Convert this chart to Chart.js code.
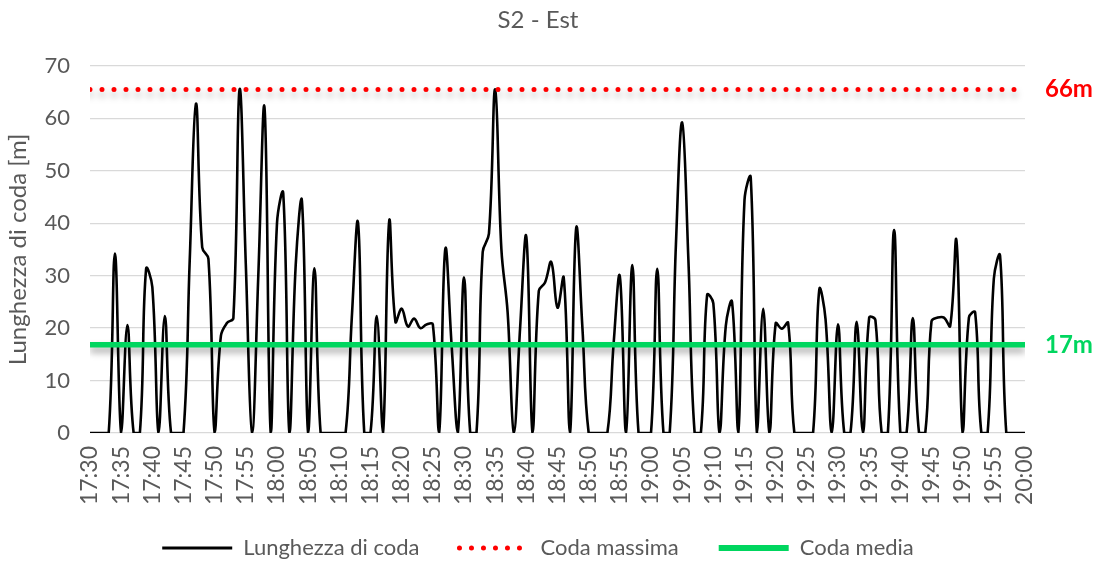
<!DOCTYPE html>
<html>
<head>
<meta charset="utf-8">
<script src="https://cdn.jsdelivr.net/npm/chart.js@4.4.0/dist/chart.umd.min.js"></script>
<style>
  html, body { margin: 0; padding: 0; background: #fff; }
  #wrap { width: 1105px; height: 562px; }
</style>
</head>
<body>
<div id="wrap"><canvas id="chart"></canvas></div>
<script>
// tick labels every 5 minutes, one queue reading per minute (17:30 -> 20:00)
const tickLabels = ['17:30', '17:35', '17:40', '17:45', '17:50', '17:55', '18:00', '18:05', '18:10', '18:15',
    '18:20', '18:25', '18:30', '18:35', '18:40', '18:45', '18:50', '18:55', '19:00', '19:05',
    '19:10', '19:15', '19:20', '19:25', '19:30', '19:35', '19:40', '19:45', '19:50', '19:55', '20:00']

const queueLength = [
    0, 0, 0, 0, 34.2, 0, 20.6, 0, 0, 31.3,
    27.8, 0, 22.3, 0, 0, 0, 33, 62.8, 35.4, 33.2,
    0, 18.5, 21, 21.9, 65.5, 32, 0, 30, 62, 0,
    40, 45.7, 0, 32, 44.2, 0, 31.4, 0, 0, 0,
    0, 0, 22, 40.1, 0, 0, 22.3, 0, 40.4, 21.2,
    23.7, 20.3, 21.8, 20, 20.7, 20.7, 0, 35.1, 17, 0,
    29.7, 0, 0, 34.5, 38, 65.5, 35, 23, 0, 20,
    37.4, 0, 27.1, 28.7, 32.6, 23.9, 29.6, 0, 39.1, 20,
    0, 0, 0, 0, 17, 29.9, 0, 32, 0, 0,
    0, 31.3, 0, 0, 36, 59.2, 33, 0, 0, 26.3,
    24.7, 0, 20.4, 25, 0, 44.4, 48.7, 0, 23.7, 0,
    20.9, 19.9, 21, 0, 0, 0, 0, 27.4, 21.7, 0,
    20.7, 0, 0, 21.2, 0, 22, 21.5, 0, 0, 38.7,
    0, 0, 21.9, 0, 0, 21.3, 22, 22, 20.4, 36.7,
    0, 22, 23, 0, 0, 29.4, 33.8, 0, 0, 0,
    0
]

const maxQueue = 65.5
const meanQueue = 16.8
const maxLabel = '66m'
const meanLabel = '17m'

const seriesNames = ['Lunghezza di coda', 'Coda massima', 'Coda media']

const textGrey = '#595959'
const fontFamily = 'Lato, "Open Sans", sans-serif'
const RED = '#ff0000'
const GREEN = '#00d65f'

const lastIdx = queueLength.length - 1

// shadow under the reference lines (max / mean)
const lineShadow = {
    id: 'lineShadow',
    beforeDatasetDraw(chart, args) {
        if (!chart.data.datasets[args.index].shadow) return
        const ctx = chart.ctx
        ctx.save()
        ctx.shadowColor = 'rgba(0, 0, 0, 0.35)'
        ctx.shadowBlur = 7
        ctx.shadowOffsetY = 5
    },
    afterDatasetDraw(chart, args) {
        if (!chart.data.datasets[args.index].shadow) return
        chart.ctx.restore()
    }
}

// the x labels run a bit into the (empty) top of the legend box,
// so widen the label clip area after layout
const labelRoom = {
    id: 'labelRoom',
    afterLayout(chart) {
        chart.scales.x.bottom += 14
    }
}

// "66m" / "17m" labels to the right of the plot
const sideLabels = {
    id: 'sideLabels',
    afterDraw(chart) {
        const ctx = chart.ctx
        const y = chart.scales.y
        const x = chart.chartArea.right + 20
        ctx.save()
        ctx.font = 'bold 24px ' + fontFamily
        ctx.textBaseline = 'middle'
        ctx.textAlign = 'left'
        ctx.fillStyle = RED
        ctx.fillText(maxLabel, x, y.getPixelForValue(maxQueue))
        ctx.fillStyle = GREEN
        ctx.fillText(meanLabel, x, y.getPixelForValue(meanQueue))
        ctx.restore()
    }
}

const ctx = document.getElementById('chart').getContext('2d')

const myChart = new Chart(ctx, {
    type: 'line',
    data: {
        datasets: [{
            label: seriesNames[0],
            data: queueLength.map((v, i) => ({ x: i, y: v })),
            borderColor: '#000000',
            backgroundColor: '#000000',
            borderWidth: 2.6,
            tension: 0.4,
            pointRadius: 0,
            order: 3,
            legendWidth: 3
        }, {
            label: seriesNames[1],
            data: [{ x: 0, y: maxQueue }, { x: lastIdx, y: maxQueue }],
            borderColor: RED,
            backgroundColor: RED,
            borderWidth: 5,
            borderDash: [0, 12],
            borderCapStyle: 'round',
            pointRadius: 0,
            order: 1,
            shadow: true,
            legendWidth: 5
        }, {
            label: seriesNames[2],
            data: [{ x: 0, y: meanQueue }, { x: lastIdx, y: meanQueue }],
            borderColor: GREEN,
            backgroundColor: GREEN,
            borderWidth: 5.5,
            borderCapStyle: 'butt',
            pointRadius: 0,
            order: 2,
            shadow: true,
            legendWidth: 6
        }]
    },
    options: {
        responsive: true,
        maintainAspectRatio: false,
        animation: false,
        layout: {
            padding: { top: 0, right: 29, left: 0, bottom: -7 }
        },
        plugins: {
            title: {
                display: true,
                text: 'S2 - Est',
                color: textGrey,
                font: { family: fontFamily, size: 24, weight: 'normal' },
                padding: { top: 6, bottom: 31 }
            },
            legend: {
                display: true,
                position: 'bottom',
                labels: {
                    usePointStyle: true,
                    pointStyleWidth: 70,
                    color: textGrey,
                    padding: 40,
                    font: { family: fontFamily, size: 22 },
                    generateLabels: chart => chart.data.datasets.map((ds, i) => ({
                        text: ds.label,
                        fillStyle: ds.borderColor,
                        strokeStyle: ds.borderColor,
                        lineWidth: ds.legendWidth,
                        lineDash: ds.borderDash || [],
                        lineCap: ds.borderCapStyle || 'butt',
                        pointStyle: 'line',
                        hidden: false,
                        datasetIndex: i,
                        fontColor: textGrey
                    }))
                }
            },
            tooltip: { enabled: false }
        },
        scales: {
            x: {
                type: 'linear',
                min: 0,
                max: lastIdx,
                afterFit: scale => { scale.height = 64 },
                ticks: {
                    stepSize: 5,
                    autoSkip: false,
                    maxRotation: 90,
                    minRotation: 90,
                    padding: 13,
                    color: textGrey,
                    font: { family: fontFamily, size: 23 },
                    callback: v => tickLabels[v / 5]
                },
                grid: { display: false, drawTicks: false },
                border: { display: false }
            },
            y: {
                min: 0,
                max: 70,
                afterFit: scale => { scale.width = 90 },
                ticks: {
                    stepSize: 10,
                    padding: 20,
                    color: textGrey,
                    font: { family: fontFamily, size: 22 }
                },
                grid: { color: '#d9d9d9', lineWidth: 1.2, drawTicks: false },
                border: { display: false },
                title: {
                    display: true,
                    text: 'Lunghezza di coda [m]',
                    color: textGrey,
                    font: { family: fontFamily, size: 24 },
                    padding: { top: 4, bottom: 2 }
                }
            },
            // empty axis on the right, keeps room for the 66m / 17m labels
            yRight: {
                position: 'right',
                min: 0,
                max: 70,
                afterFit: scale => { scale.width = 51 },
                ticks: { display: false },
                grid: { display: false, drawTicks: false },
                border: { display: false }
            }
        }
    },
    plugins: [lineShadow, labelRoom, sideLabels]
})
</script>
</body>
</html>
